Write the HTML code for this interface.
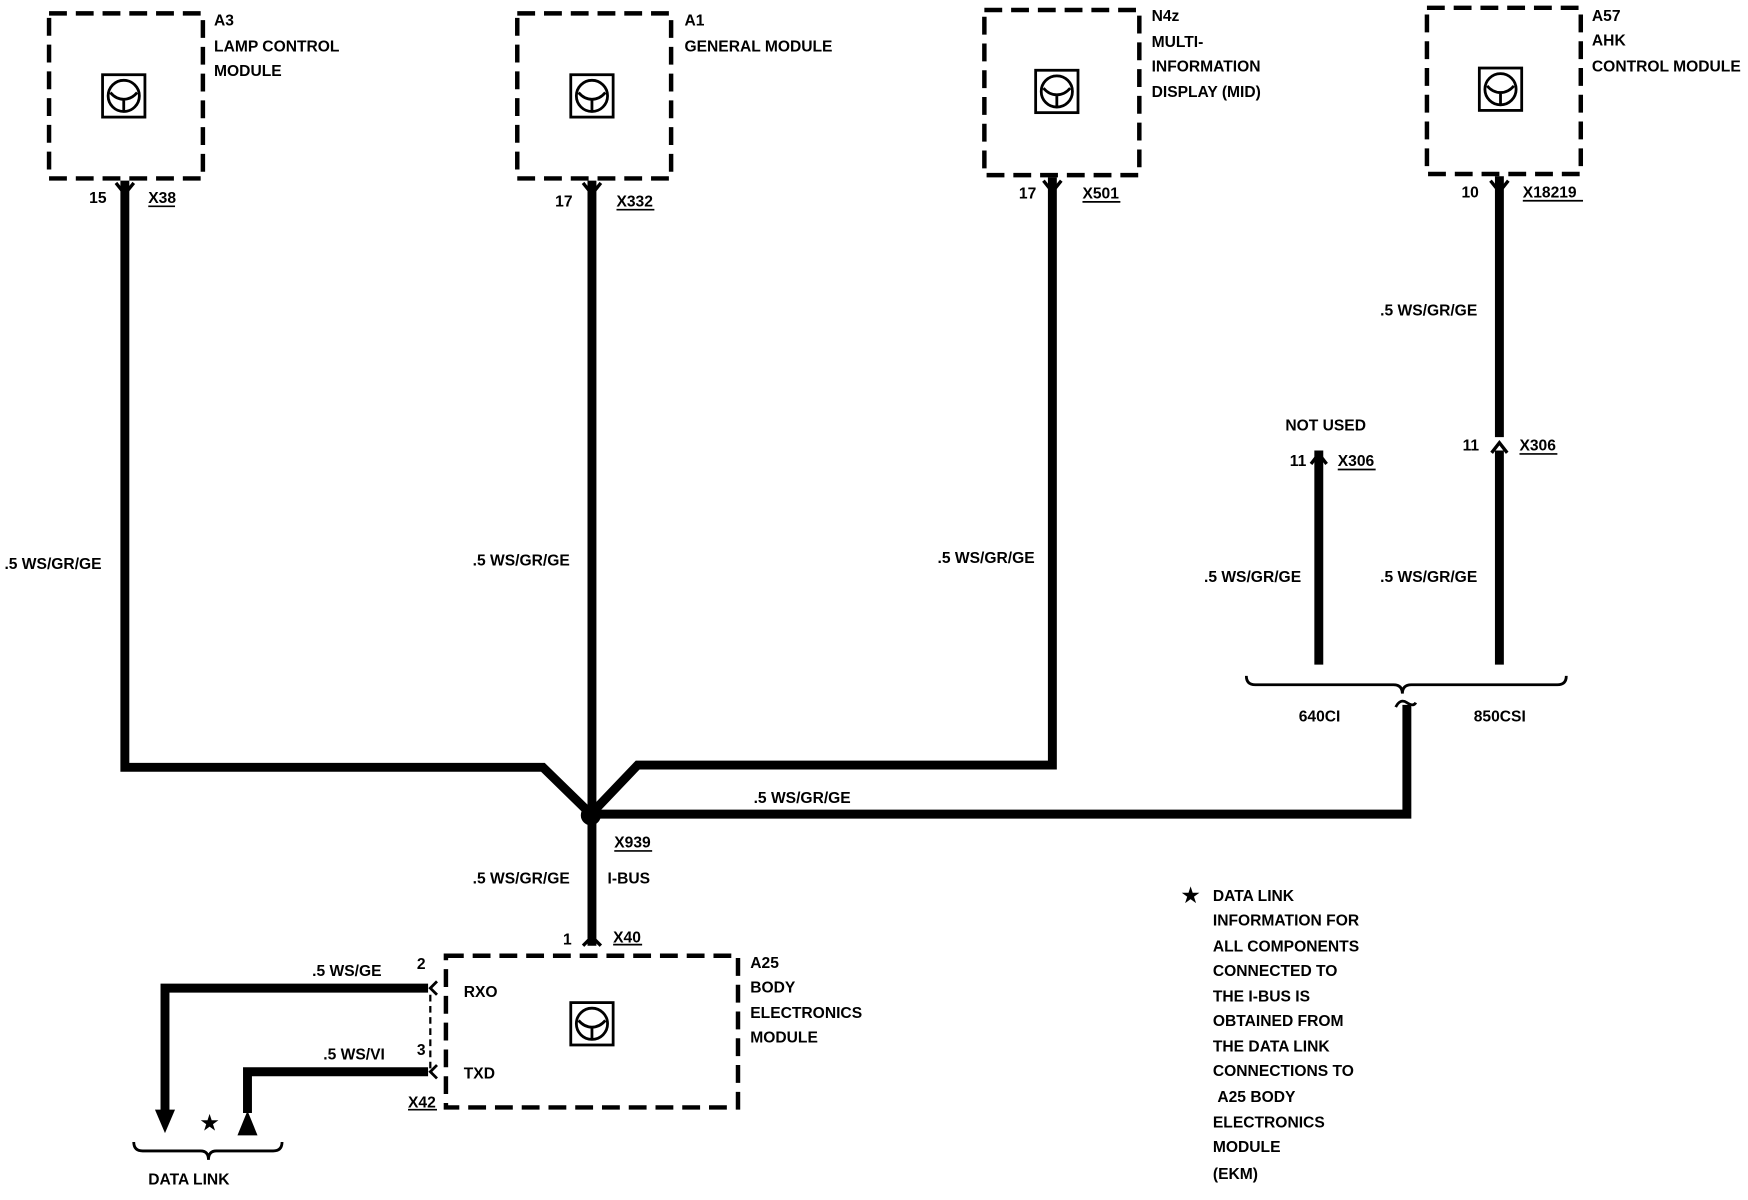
<!DOCTYPE html>
<html><head><meta charset="utf-8"><style>
html,body{margin:0;padding:0;background:#fff;}
svg{display:block;}
text{font-family:"Liberation Sans",Arial,sans-serif;font-size:14px;font-weight:bold;fill:#000;}
</style></head><body>
<svg width="1748" height="1200" viewBox="0 0 1568 1076" preserveAspectRatio="none" xmlns="http://www.w3.org/2000/svg">
<defs>
<g id="ic">
<rect x="-19" y="-19" width="38" height="38" fill="none" stroke="#000" stroke-width="2.5"/>
<circle cx="0" cy="0" r="14" fill="none" stroke="#000" stroke-width="2.5"/>
<path d="M-12,-3 Q-7,3 0,3 Q7,3 12,-3 M0,3 V14" fill="none" stroke="#000" stroke-width="2.5"/>
</g>
<g id="fk"><path d="M-8,-8 L0,2 L8,-8" fill="none" stroke="#000" stroke-width="3"/></g>
<g id="up"><path d="M-7,6 L0,-3 L7,6" fill="none" stroke="#000" stroke-width="3"/></g>
</defs>
<g fill="none" stroke="#000" stroke-width="4" stroke-dasharray="16,8">
<rect x="44" y="12" width="138" height="148"/>
<rect x="464" y="12" width="138" height="148"/>
<rect x="883" y="9" width="139" height="148"/>
<rect x="1280" y="7" width="138" height="149"/>
<rect x="400" y="857" width="262" height="136"/>
</g>
<use href="#ic" x="111" y="86"/>
<use href="#ic" x="531" y="86"/>
<use href="#ic" x="948" y="82"/>
<use href="#ic" x="1346" y="80"/>
<use href="#ic" x="531" y="918"/>
<g fill="none" stroke="#000" stroke-width="8" stroke-linejoin="miter">
<path d="M112,162 V688 H487 L530,730"/>
<path d="M531,162 V848"/>
<path d="M944,159 V686 H572 L530,730"/>
<path d="M530,730 H1262 V632"/>
<path d="M1345,158 V392"/>
<path d="M1345,404 V596"/>
<path d="M1183,404 V596"/>
<path d="M384,886 H148 V998"/>
<path d="M384,961 H222 V998"/>
</g>
<use href="#fk" x="112" y="172"/>
<use href="#fk" x="531" y="172"/>
<use href="#fk" x="944" y="170"/>
<use href="#fk" x="1345" y="170"/>
<use href="#up" x="1345" y="400"/>
<use href="#up" x="1183" y="410"/>
<path d="M523,848 L531,840 L539,848" fill="none" stroke="#000" stroke-width="3"/>
<circle cx="530" cy="731" r="8" fill="#000" stroke="#000" stroke-width="2"/>
<polygon points="139,995 157,995 148,1016" fill="#000"/>
<polygon points="213,1018 231,1018 222,996" fill="#000"/>
<path d="M386,892 V958" stroke="#000" stroke-width="2" stroke-dasharray="6,4"/>
<path d="M392,880 L386,886 L392,892 M392,955 L386,961 L392,967" fill="none" stroke="#000" stroke-width="2.5"/>
<path d="M1118,606 Q1118,614 1126,614 H1250 Q1258,614 1258,622 Q1258,614 1266,614 H1397 Q1405,614 1405,606" fill="none" stroke="#000" stroke-width="2.5"/>
<path d="M1252,634 Q1256,626 1262,630 Q1268,634 1270,630" fill="none" stroke="#000" stroke-width="2.5"/>
<path d="M120,1024 Q120,1032 128,1032 H180 Q187,1032 187,1040 Q187,1032 194,1032 H245 Q253,1032 253,1024" fill="none" stroke="#000" stroke-width="2.5"/>
<g stroke="#000" stroke-width="1.5">
<line x1="133" y1="185" x2="157" y2="185"/>
<line x1="553" y1="188" x2="587" y2="188"/>
<line x1="971" y1="181" x2="1005" y2="181"/>
<line x1="1366" y1="180" x2="1420" y2="180"/>
<line x1="1200" y1="421" x2="1234" y2="421"/>
<line x1="1363" y1="407" x2="1397" y2="407"/>
<line x1="551" y1="763" x2="585" y2="763"/>
<line x1="550" y1="847" x2="576" y2="847"/>
<line x1="366" y1="995" x2="392" y2="995"/>
</g>
<text x="192" y="23">A3</text><text x="192" y="46">LAMP CONTROL</text><text x="192" y="68">MODULE</text>
<text x="614" y="23">A1</text><text x="614" y="46">GENERAL MODULE</text>
<text x="1033" y="19">N4z</text><text x="1033" y="42">MULTI-</text><text x="1033" y="64">INFORMATION</text><text x="1033" y="87">DISPLAY (MID)</text>
<text x="1428" y="19">A57</text><text x="1428" y="41">AHK</text><text x="1428" y="64">CONTROL MODULE</text>
<text x="80" y="182">15</text><text x="133" y="182">X38</text>
<text x="498" y="185">17</text><text x="553" y="185">X332</text>
<text x="914" y="178">17</text><text x="971" y="178">X501</text>
<text x="1311" y="177">10</text><text x="1366" y="177">X18219</text>
<text x="4" y="510">.5 WS/GR/GE</text>
<text x="424" y="507">.5 WS/GR/GE</text>
<text x="841" y="505">.5 WS/GR/GE</text>
<text x="1238" y="283">.5 WS/GR/GE</text>
<text x="1153" y="386">NOT USED</text>
<text x="1157" y="418">11</text><text x="1200" y="418">X306</text>
<text x="1312" y="404">11</text><text x="1363" y="404">X306</text>
<text x="1080" y="522">.5 WS/GR/GE</text>
<text x="1238" y="522">.5 WS/GR/GE</text>
<text x="1165" y="647">640CI</text><text x="1322" y="647">850CSI</text>
<text x="676" y="720">.5 WS/GR/GE</text>
<text x="551" y="760">X939</text>
<text x="424" y="792">.5 WS/GR/GE</text><text x="545" y="792">I-BUS</text>
<text x="505" y="847">1</text><text x="550" y="845">X40</text>
<text x="673" y="868">A25</text><text x="673" y="890">BODY</text><text x="673" y="913">ELECTRONICS</text><text x="673" y="935">MODULE</text>
<text x="416" y="894">RXO</text><text x="416" y="967">TXD</text>
<text x="280" y="875">.5 WS/GE</text><text x="374" y="869">2</text>
<text x="290" y="950">.5 WS/VI</text><text x="374" y="946">3</text>
<text x="366" y="993">X42</text>
<text x="180" y="1013" style="font-size:18px">★</text>
<text x="133" y="1062">DATA LINK</text>
<text x="1060" y="809" style="font-size:18px">★</text>
<text x="1088" y="808">DATA LINK</text>
<text x="1088" y="830">INFORMATION FOR</text>
<text x="1088" y="853">ALL COMPONENTS</text>
<text x="1088" y="875">CONNECTED TO</text>
<text x="1088" y="898">THE I-BUS IS</text>
<text x="1088" y="920">OBTAINED FROM</text>
<text x="1088" y="943">THE DATA LINK</text>
<text x="1088" y="965">CONNECTIONS TO</text>
<text x="1092" y="988">A25 BODY</text>
<text x="1088" y="1011">ELECTRONICS</text>
<text x="1088" y="1033">MODULE</text>
<text x="1088" y="1057">(EKM)</text>
</svg>
</body></html>
